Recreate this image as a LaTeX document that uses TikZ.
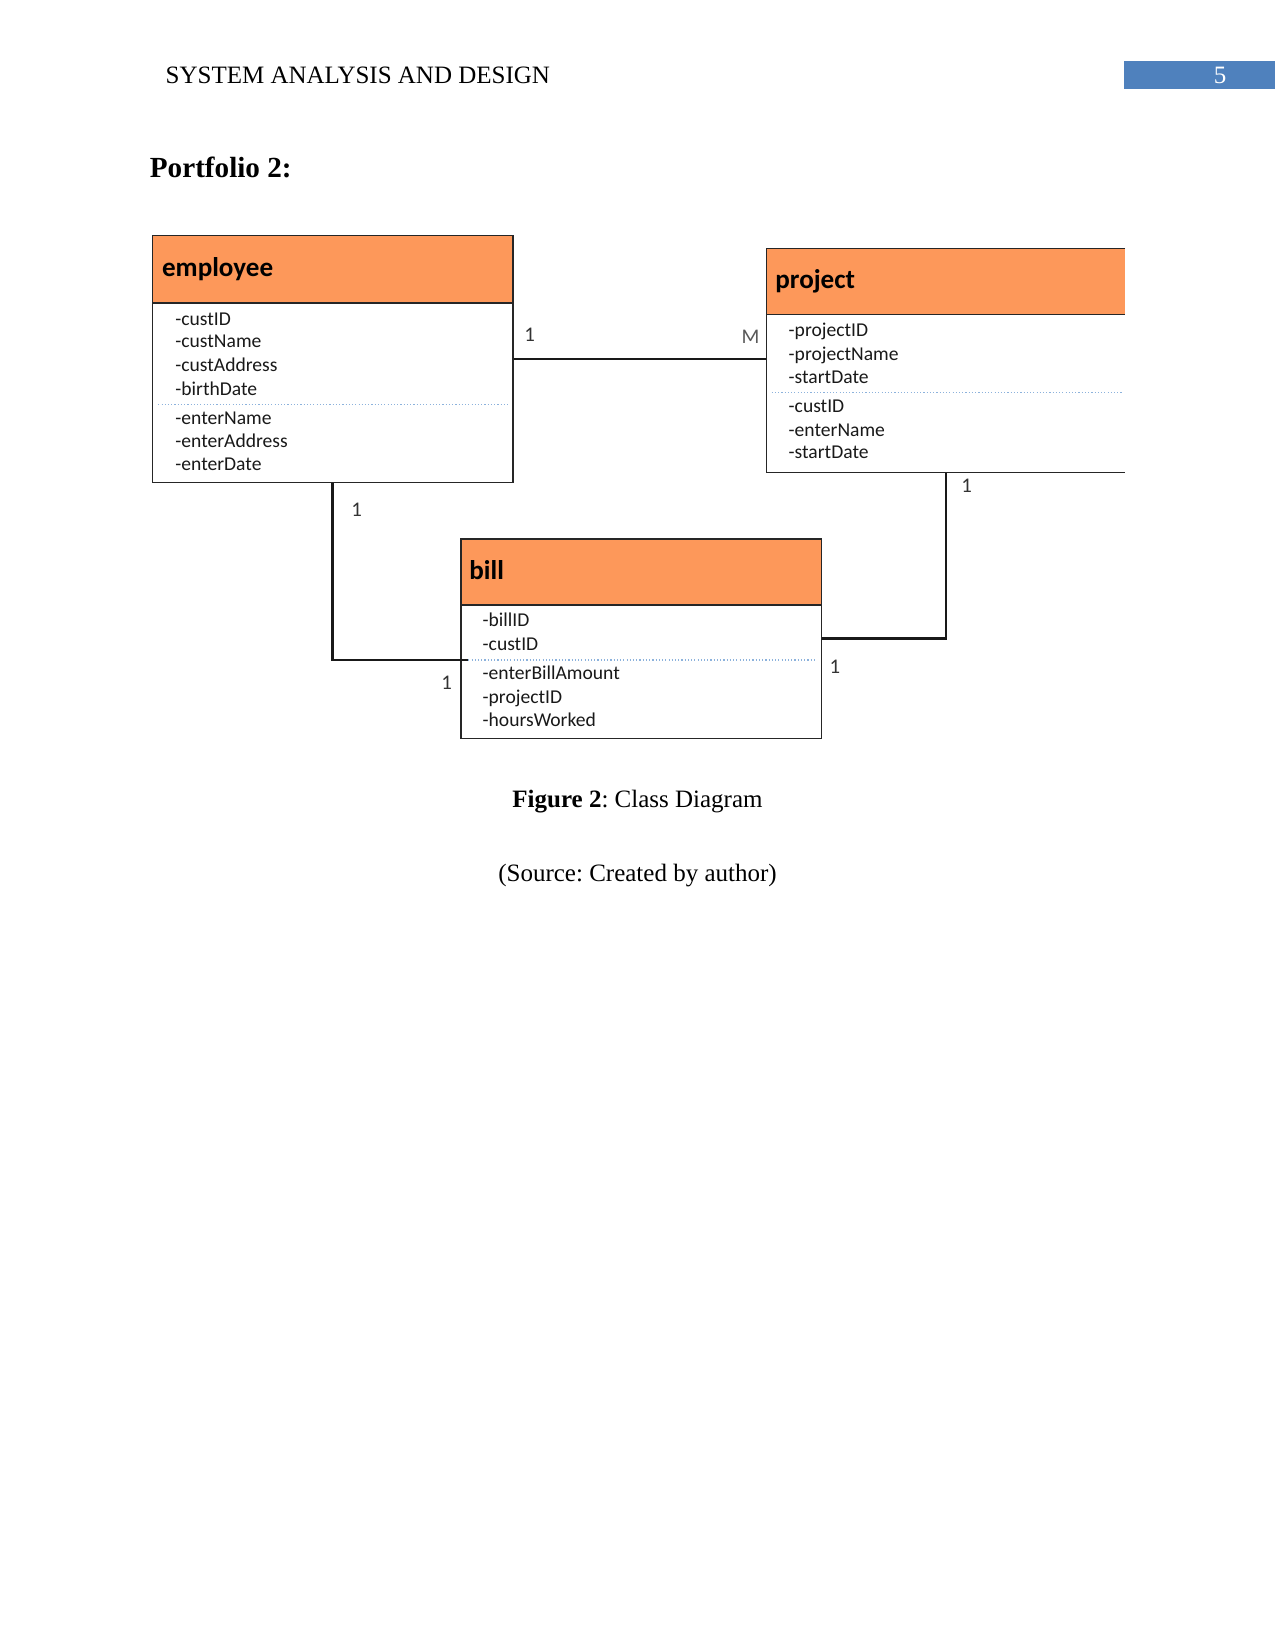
\documentclass[tikz,border=0pt]{standalone}
\usepackage{fontspec}
\setmainfont{Liberation Serif}
\newfontfamily\calfont{Carlito}
\usetikzlibrary{fit}
\definecolor{hdrorange}{RGB}{253,152,90}
\definecolor{pgblue}{RGB}{79,129,189}
\definecolor{dotblue}{RGB}{140,178,220}
\frenchspacing
\begin{document}
\begin{tikzpicture}[x=0.48pt,y=-0.48pt,
  box/.style={draw=black!85, line width=0.65pt, inner sep=0pt},
  headbox/.style={box, fill=hdrorange},
  ttl/.style={anchor=base west, inner sep=0pt, font=\calfont\fontsize{13}{15}\selectfont\bfseries},
  attr/.style={anchor=base west, inner sep=0pt, font=\calfont\fontsize{9.4}{11}\selectfont, text=black!90},
  mult/.style={anchor=center, inner sep=0pt, font=\calfont\fontsize{10}{12}\selectfont, text=black!80},
  conn/.style={line width=1.2pt, draw=black!90},
  sepline/.style={draw=dotblue, densely dotted, line width=0.55pt},
  serif12/.style={inner sep=0pt, font=\fontsize{12}{14}\selectfont}]
\useasboundingbox (0,0) rectangle (1275,1651);
\fill[white] (0,0) rectangle (1275,1651);

% page header
\node[serif12, anchor=base west] (runhead) at (165.3,83.3) {SYSTEM ANALYSIS AND DESIGN};
\node[fill=pgblue, inner sep=0pt, fit={(1124.4,60.7)(1275,89.3)}] (pgbox) {};
\node[serif12, anchor=base, text=white] (pgnum) at (1220,83.3) {5};
\node[inner sep=0pt, anchor=base west, font=\fontsize{14}{16}\selectfont\bfseries] (portf) at (149.5,178) {Portfolio 2:};

% employee
\node[box, fit={(152.3,235.7)(513,482.7)}] (emp) {};
\node[headbox, fit={(152.3,235.7)(513,303)}] (emph) {};
\node[ttl] (empt) at (161.7,276.7) {employee};
\draw[sepline] (158.3,404.3) -- (508.3,404.3);
\foreach \t/\y [count=\i] in {-custID/325,-custName/347.7,-custAddress/371,-birthDate/395,-enterName/424,-enterAddress/447.3,-enterDate/470.7}
  \node[attr] (empa\i) at (175,\y) {\t};

% project (right border cut off)
\node[inner sep=0pt, fit={(766.7,248.3)(1125,472.3)}] (proj) {};
\fill[hdrorange] (766.7,248.3) rectangle (1125,314.3);
\draw[black!85, line width=0.65pt] (1125,248.3) -- (766.7,248.3) -- (766.7,472.3) -- (1125,472.3);
\draw[black!85, line width=0.65pt] (766.7,314.3) -- (1125,314.3);
\node[ttl] (projt) at (775,288.3) {project};
\draw[sepline] (771.7,392.7) -- (1121.7,392.7);
\foreach \t/\y [count=\i] in {-projectID/336.7,-projectName/360,-startDate/383.3,-custID/412.7,-enterName/436,-startDate/458.3}
  \node[attr] (proja\i) at (788.3,\y) {\t};

% bill
\node[box, fit={(461,539)(821.7,738.3)}] (bill) {};
\node[headbox, fit={(461,539)(821.7,605)}] (billh) {};
\node[ttl] (billt) at (469,579.3) {bill};
\draw[sepline] (468.3,660) -- (816.7,660);
\foreach \t/\y [count=\i] in {-billID/626.7,-custID/650,-enterBillAmount/679,-projectID/703.3,-hoursWorked/726.7}
  \node[attr] (billa\i) at (482.3,\y) {\t};

% connectors
\coordinate (billL) at (467.7,660);
\draw[conn] (emp.east) -- (emp.east -| proj.west);
\draw[conn] (emp.south) |- (billL);
\draw[conn] (bill.east) -| (proj.south);

% multiplicities
\node[mult] (m1) at (529.6,334.8) {1};
\node[mult, text=black!65] (m2) at (750.6,337) {M};
\node[mult] (m3) at (356.7,509.3) {1};
\node[mult] (m4) at (446.7,682.3) {1};
\node[mult] (m5) at (835,667) {1};
\node[mult] (m6) at (966.7,485.7) {1};

% caption
\node[serif12, anchor=base] (cap1) at (637.5,807.7) {\textbf{Figure 2}: Class Diagram};
\node[serif12, anchor=base] (cap2) at (637.5,881.7) {(Source: Created by author)};
\end{tikzpicture}
\end{document}
